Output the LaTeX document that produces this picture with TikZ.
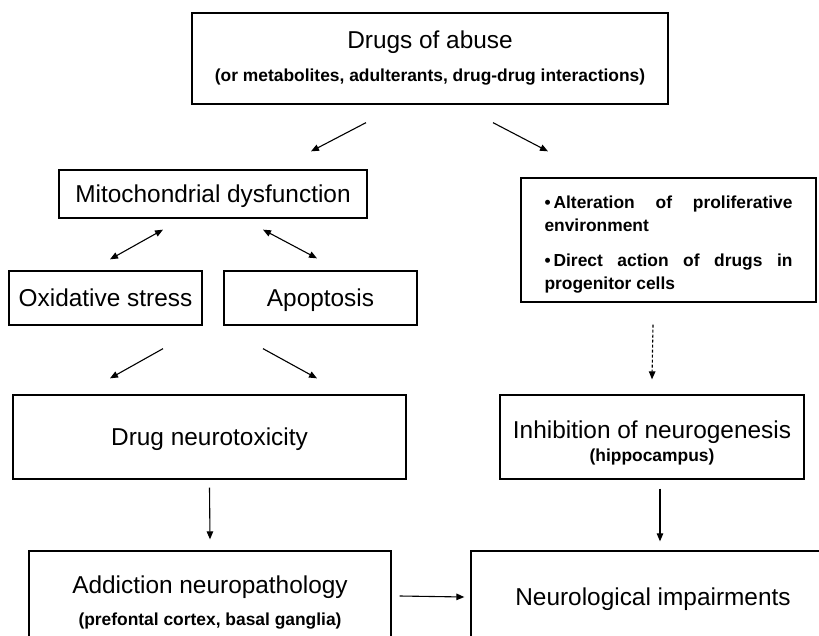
\documentclass[tikz,border=0pt]{standalone}
\usepackage{fontspec}
\setmainfont{Liberation Sans}
\usetikzlibrary{arrows.meta}
\newcommand{\bigtxt}{\fontsize{24.4}{29}\selectfont}
\newcommand{\smalltxt}{\fontsize{17.4}{23}\selectfont\bfseries}
\newcommand{\nohyph}{\hyphenpenalty=10000\exhyphenpenalty=10000\lefthyphenmin=60\relax}
\tikzset{box/.style={draw,line width=1.3pt,inner sep=0pt,align=center,font=\bigtxt},
oneline/.style={box,text height=17.5pt,text depth=0pt},
arr/.style={line width=1.1pt,-{Triangle[length=8pt,width=6.5pt]}},
dblarr/.style={line width=1.1pt,{Triangle[length=8pt,width=6.5pt]}-{Triangle[length=8pt,width=6.5pt]}}}

\begin{document}
\begin{tikzpicture}[x=1pt,y=-1pt]
	\useasboundingbox (0,0) rectangle (819,636);
	\clip (0,0) rectangle (819,636);
	
	% Boxes
	\node[box,minimum width=476,minimum height=91] (drugs) at (430,58.5) {Drugs of abuse\\[4pt]{\smalltxt (or metabolites, adulterants, drug-drug interactions)}};
	\node[oneline,minimum width=308,minimum height=48] (mito) at (213,194) {Mitochondrial dysfunction};
	\node[oneline,minimum width=193,minimum height=54] (oxid) at (105.5,298) {Oxidative stress};
	\node[oneline,minimum width=193,minimum height=54] (apop) at (320.5,298) {Apoptosis};
	\node[box,minimum width=295,minimum height=124,text width=248,align=justify,font={\smalltxt\nohyph}] (alter) at (668.5,240)
	  {\rule{0pt}{22pt}\textbullet\kern3pt Alteration of proliferative environment\\[12pt]\textbullet\kern3pt Direct action of drugs in progenitor cells};
	\node[oneline,minimum width=393,minimum height=84] (tox) at (209.5,437) {Drug neurotoxicity};
	\node[box,minimum width=304,minimum height=84] (inhib) at (652,437) {\rule{0pt}{30pt}Inhibition of neurogenesis\\[-6pt]{\smalltxt (hippocampus)}};
	\node[box,minimum width=362,minimum height=95] (addict) at (210,598.5) {\rule{0pt}{25pt}Addiction neuropathology\\[3pt]{\smalltxt (prefontal cortex, basal ganglia)}};
	\node[oneline,minimum width=364,minimum height=92] (neuro) at (653,597) {Neurological impairments};
	
	% Arrows
	\draw[arr] ([shift={(-64,18)}]drugs.south) -- ([shift={(98,-18)}]mito.north);
	\draw[arr] ([shift={(63,18)}]drugs.south) -- ([shift={(-120.5,-26)}]alter.north);
	\draw[dblarr] ([shift={(-50,11)}]mito.south) -- ([shift={(4.5,-11)}]oxid.north);
	\draw[dblarr] ([shift={(50,11)}]mito.south) -- ([shift={(-3.5,-12)}]apop.north);
	\draw[arr] ([shift={(57.5,23)}]oxid.south) -- ([shift={(-99.5,-16)}]tox.north);
	\draw[arr] ([shift={(-57.5,23)}]apop.south) -- ([shift={(107.5,-16)}]tox.north);
	\draw[arr,dash pattern=on 3pt off 2pt] ([shift={(-15.5,22)}]alter.south) -- ([shift={(0,-15)}]inhib.north);
	\draw[arr] ([shift={(0,8)}]tox.south) -- ([shift={(0,-11)}]addict.north);
	\draw[arr] ([shift={(8,9)}]inhib.south) -- ([shift={(7,-9)}]neuro.north);
	\draw[arr] ([shift={(8,-2.5)}]addict.east) -- ([shift={(-6,0)}]neuro.west);
\end{tikzpicture}
\end{document}
